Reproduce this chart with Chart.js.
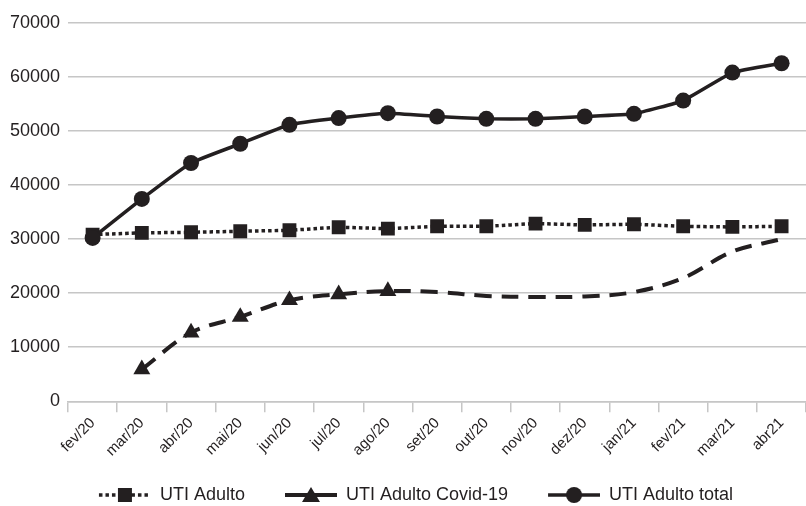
<!DOCTYPE html>
<html>
<head>
<meta charset="utf-8">
<script src="https://cdn.jsdelivr.net/npm/chart.js@4"></script>
<style>
html,body{margin:0;padding:0;background:#fff;overflow:hidden;width:806px;height:506px;}
canvas{display:block;}
</style>
</head>
<body>
<canvas id="c" width="816" height="506" style="width:816px;height:506px"></canvas>
<script>
const categories = ['fev/20','mar/20','abr/20','mai/20','jun/20','jul/20','ago/20','set/20','out/20','nov/20','dez/20','jan/21','fev/21','mar/21','abr21'];
const utiAdulto = [30850,31160,31270,31460,31640,32200,31950,32380,32380,32880,32630,32750,32380,32260,32380];
const utiCovid = [null,5900,12700,15600,18700,19800,20400,20200,19500,19300,19400,20200,22800,27700,30000];
const utiTotal = [30230,37440,44090,47650,51160,52400,53320,52700,52270,52270,52700,53200,55650,60820,62550];
const seriesNames = ['UTI Adulto','UTI Adulto Covid-19','UTI Adulto total'];
const yTicks = [0,10000,20000,30000,40000,50000,60000,70000];

const INK = '#231f20';
const GRID = '#c6c6c6';
const ICON_PAD = 30;

function legendIcon(kind){
  const cv = document.createElement('canvas');
  cv.width = 52 + ICON_PAD; cv.height = 20;
  const g = cv.getContext('2d');
  g.translate(ICON_PAD, 0);
  g.strokeStyle = INK; g.fillStyle = INK;
  g.beginPath();
  if (kind === 0){ g.lineWidth = 3.5; g.setLineDash([3.5,3]); }
  else if (kind === 1){ g.lineWidth = 4; }
  else { g.lineWidth = 3.5; }
  g.moveTo(0,10); g.lineTo(52,10); g.stroke();
  g.setLineDash([]);
  g.beginPath();
  if (kind === 0){ g.rect(19,3,14,14); }
  else if (kind === 1){ g.moveTo(26,2); g.lineTo(35,17); g.lineTo(17,17); g.closePath(); }
  else { g.arc(26,10,8,0,Math.PI*2); }
  g.fill();
  return cv;
}
const icons = [legendIcon(0), legendIcon(1), legendIcon(2)];

const covidRadius = utiCovid.map((v,i)=> (i>=1 && i<=6) ? 9.8 : 0);

const legendShift = {
  id: 'legendShift',
  afterLayout(chart){
    const l = chart.legend; if (!l) return;
    l.left += -7; l.right += -7;
    l.top += 14; l.bottom += 14;
  }
};

new Chart(document.getElementById('c'), {
  type: 'line',
  plugins: [legendShift],
  data: {
    labels: categories,
    datasets: [
      {
        label: seriesNames[0], data: utiAdulto, order: 2,
        borderColor: INK, backgroundColor: INK, borderWidth: 3.5, borderDash: [3.5,3],
        pointStyle: 'rect', pointRadius: 9.8, pointBorderWidth: 0, tension: 0.1, fill: false
      },
      {
        label: seriesNames[1], data: utiCovid, order: 1,
        borderColor: INK, backgroundColor: INK, borderWidth: 4, borderDash: [17,10],
        pointStyle: 'triangle', pointRadius: covidRadius, pointBorderWidth: 0, tension: 0.35, fill: false
      },
      {
        label: seriesNames[2], data: utiTotal, order: 0,
        borderColor: INK, backgroundColor: INK, borderWidth: 3.5,
        pointStyle: 'circle', pointRadius: 8, pointBorderWidth: 0, tension: 0.12, fill: false
      }
    ]
  },
  options: {
    responsive: false,
    animation: false,
    devicePixelRatio: 1,
    layout: { padding: { left: 0, right: 0, top: 23, bottom: 6 } },
    plugins: {
      tooltip: { enabled: false },
      legend: {
        position: 'bottom',
        labels: {
          usePointStyle: true,
          pointStyleWidth: 52 + ICON_PAD,
          padding: 10,
          color: INK,
          font: { family: 'Liberation Sans, Arial, sans-serif', size: 18 },
          sort: (a,b) => a.datasetIndex - b.datasetIndex,
          generateLabels: (chart) => chart.data.datasets.map((ds,i)=>({
            text: ds.label, datasetIndex: i, pointStyle: icons[i],
            fillStyle: INK, strokeStyle: INK, lineWidth: 0, hidden: false, fontColor: INK
          }))
        }
      }
    },
    scales: {
      x: {
        offset: true,
        grid: { offset: true, drawOnChartArea: false, drawTicks: true, tickLength: 11, color: GRID, lineWidth: 1.5 },
        border: { display: true, color: GRID, width: 1.5 },
        ticks: {
          maxRotation: 45, minRotation: 45, autoSkip: false, padding: 2,
          color: INK, font: { family: 'Liberation Sans, Arial, sans-serif', size: 15 }
        }
      },
      y: {
        min: 0, max: 70000,
        afterFit: (s) => { s.width = 68; },
        afterBuildTicks: (s) => { s.ticks = yTicks.map(v=>({value:v})); },
        grid: { drawTicks: false, color: GRID, lineWidth: 1.5 },
        border: { display: false },
        ticks: {
          stepSize: 10000, padding: 8, color: INK,
          font: { family: 'Liberation Sans, Arial, sans-serif', size: 18 },
          callback: (v) => String(v)
        }
      }
    }
  }
});
</script>
</body>
</html>
